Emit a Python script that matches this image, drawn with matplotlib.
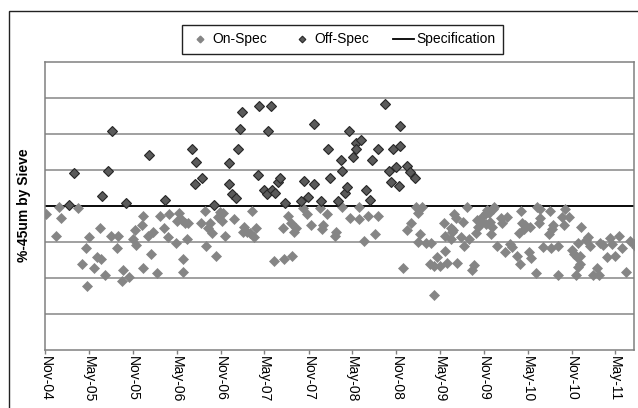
import matplotlib.pyplot as plt
import matplotlib.dates as mdates
from matplotlib.patches import Rectangle
from matplotlib.lines import Line2D
from datetime import datetime, timedelta

plt.rcParams['font.family'] = ['Liberation Sans', 'DejaVu Sans']

# Sieve results: sample time (decimal year) and % passing 45um
on_spec_time = [
    2004.84, 2004.99, 2005.01, 2005.20, 2004.96, 2005.33, 2005.46, 2005.58, 2005.66, 2005.30,
    2005.25, 2005.42, 2005.47, 2005.39, 2005.51, 2005.31, 2005.65, 2005.72, 2005.71, 2005.79,
    2005.85, 2005.93, 2005.94, 2005.83, 2005.87, 2006.00, 2006.06, 2006.04, 2005.95, 2006.10,
    2006.14, 2006.24, 2006.19, 2006.23, 2006.32, 2006.36, 2006.33, 2006.39, 2006.42, 2006.46,
    2006.45, 2006.40, 2006.40, 2006.61, 2006.65, 2006.66, 2006.71, 2006.69, 2006.73, 2006.78,
    2006.80, 2006.82, 2006.86, 2006.84, 2006.88, 2006.98, 2007.10, 2007.13, 2007.09, 2007.16,
    2007.19, 2007.23, 2007.21, 2007.44, 2007.55, 2007.64, 2007.60, 2007.63, 2007.54, 2007.69,
    2007.67, 2007.77, 2007.82, 2007.86, 2007.96, 2008.04, 2008.00, 2007.99, 2008.15, 2008.13,
    2008.21, 2008.31, 2008.41, 2008.41, 2008.51, 2008.62, 2008.59, 2008.47, 2009.06, 2009.08,
    2009.12, 2009.00, 2008.95, 2009.10, 2009.08, 2009.17, 2009.23, 2008.91, 2009.26, 2009.22,
    2009.26, 2009.29, 2009.33, 2009.39, 2009.41, 2009.52, 2009.37, 2009.39, 2009.45, 2009.47,
    2009.48, 2009.45, 2009.49, 2009.51, 2009.59, 2009.57, 2009.60, 2009.64, 2009.66, 2009.72,
    2009.70, 2009.74, 2009.76, 2009.75, 2009.81, 2009.85, 2009.86, 2009.89, 2009.93, 2009.81,
    2009.85, 2009.90, 2009.92, 2009.91, 2009.95, 2009.98, 2010.03, 2010.04, 2010.07, 2010.09,
    2010.25, 2010.44, 2010.47, 2010.58, 2010.76, 2010.72, 2010.80, 2010.47, 2010.46, 2010.26,
    2010.30, 2010.36, 2010.23, 2010.29, 2010.62, 2010.61, 2010.57, 2010.74, 2010.94, 2010.13,
    2010.15, 2010.21, 2010.24, 2010.34, 2010.37, 2010.50, 2010.59, 2010.68, 2010.42, 2010.68,
    2010.83, 2010.86, 2010.89, 2010.93, 2010.90, 2011.00, 2011.02, 2011.04, 2010.93, 2010.90,
    2010.88, 2011.07, 2011.12, 2011.14, 2011.16, 2011.19, 2011.27, 2011.29, 2011.37, 2011.40,
    2011.23, 2011.33, 2011.45, 2011.50, 2011.54, 2011.56,
]
on_spec_pct = [
    37.8, 39.7, 36.8, 39.4, 31.8, 31.3, 33.8, 31.8, 31.8, 28.3,
    23.8, 25.9, 25.2, 22.7, 20.8, 17.8, 28.3, 22.1, 19.3, 20.2,
    33.3, 34.7, 37.2, 30.8, 29.2, 31.8, 32.7, 26.7, 22.7, 21.3,
    37.2, 37.8, 33.8, 31.5, 29.8, 38.1, 35.8, 36.1, 35.2, 35.2,
    30.9, 25.3, 21.8, 35.2, 38.7, 28.8, 35.2, 34.0, 32.6, 26.2,
    37.0, 38.4, 38.1, 35.8, 31.8, 36.3, 34.3, 32.9, 32.9, 32.4,
    38.7, 33.8, 31.3, 24.6, 25.2, 26.2, 37.2, 35.2, 33.8, 34.0,
    32.7, 39.4, 37.8, 34.7, 39.4, 37.8, 34.7, 33.6, 32.7, 31.8,
    39.8, 36.8, 39.8, 36.3, 37.2, 37.2, 32.2, 30.3, 39.6, 38.1,
    39.8, 35.2, 33.3, 32.2, 30.1, 29.6, 29.6, 22.7, 15.3, 23.8,
    23.3, 25.9, 23.3, 27.6, 24.3, 24.3, 35.2, 31.8, 33.8, 32.9,
    33.3, 30.8, 37.8, 36.6, 35.6, 31.5, 28.9, 39.8, 30.8, 23.6,
    22.2, 32.6, 34.3, 36.1, 37.0, 38.0, 38.9, 38.1, 39.1, 35.6,
    35.0, 35.6, 34.3, 32.2, 39.6, 28.9, 36.6, 35.2, 27.1, 37.0,
    38.7, 39.8, 39.1, 38.7, 39.1, 37.0, 37.0, 36.6, 35.2, 35.2,
    34.7, 34.3, 32.6, 33.5, 34.7, 33.5, 32.2, 34.7, 34.1, 29.4,
    28.7, 26.2, 23.8, 27.3, 25.6, 28.5, 28.3, 29.0, 21.3, 20.8,
    27.8, 26.6, 25.9, 26.2, 29.6, 30.6, 31.3, 28.9, 23.9, 23.1,
    20.8, 20.8, 22.9, 20.8, 29.6, 29.2, 31.0, 29.4, 31.8, 28.3,
    25.9, 26.2, 21.8, 30.4, 29.4, 28.7,
]
off_spec_time = [
    2005.10, 2005.16, 2005.48, 2005.54, 2005.59, 2005.75, 2006.01, 2006.20, 2006.50, 2006.54,
    2006.55, 2006.62, 2006.76, 2006.92, 2006.93, 2006.96, 2007.01, 2007.03, 2007.05, 2007.07,
    2007.26, 2007.27, 2007.32, 2007.36, 2007.37, 2007.40, 2007.42, 2007.45, 2007.48, 2007.51,
    2007.56, 2007.75, 2007.78, 2007.83, 2007.89, 2007.90, 2007.97, 2008.06, 2008.08, 2008.17,
    2008.20, 2008.21, 2008.25, 2008.27, 2008.30, 2008.34, 2008.37, 2008.37, 2008.43, 2008.49,
    2008.53, 2008.56, 2008.63, 2008.71, 2008.75, 2008.77, 2008.80, 2008.83, 2008.87, 2008.88,
    2008.88, 2008.96, 2008.99, 2009.05,
]
off_spec_pct = [
    40.2, 49.3, 42.8, 49.8, 60.8, 40.8, 54.2, 41.8, 55.8, 46.2,
    52.3, 47.8, 40.2, 51.9, 46.2, 43.3, 42.3, 55.8, 61.3, 66.2,
    48.7, 67.8, 44.4, 43.3, 60.8, 67.8, 44.4, 43.7, 46.7, 47.9,
    40.8, 41.3, 46.9, 42.4, 46.2, 62.8, 41.3, 55.8, 47.8, 41.3,
    52.8, 49.8, 43.7, 45.2, 60.8, 53.7, 57.4, 55.8, 58.3, 44.4,
    41.8, 52.8, 55.8, 68.3, 49.8, 46.7, 55.8, 50.8, 45.6, 62.2,
    56.8, 51.2, 49.4, 47.8,
]
spec_limit = 40
x_start = datetime(2004, 11, 1)
x_end = datetime(2011, 7, 18)

on_color = '#858585'
off_face, off_edge = '#5a5a5a', '#262626'


def to_date(year):
    whole = int(year)
    return datetime(whole, 1, 1) + timedelta(days=(year - whole) * 365.25)


fig = plt.figure(figsize=(6.38, 4.08), dpi=100)
ax = fig.add_axes([0.0713, 0.1422, 0.9224, 0.7058])

ax.set_ylim(0, 80)
ax.set_yticks(range(10, 80, 10))
ax.yaxis.grid(True, color='#868686', linewidth=1.1)
ax.tick_params(axis='y', left=False, labelleft=False)

ax.plot([x_start, x_end], [spec_limit, spec_limit], color='black', linewidth=1.3, zorder=2)
ax.plot([to_date(t) for t in on_spec_time], on_spec_pct, 'D', ms=4.6,
        mfc=on_color, mec=on_color, mew=0.5, zorder=3)
ax.plot([to_date(t) for t in off_spec_time], off_spec_pct, 'D', ms=4.6,
        mfc=off_face, mec=off_edge, mew=0.8, zorder=3)

ax.set_xlim(x_start, x_end)
ax.xaxis.set_major_locator(mdates.MonthLocator(bymonth=[5, 11]))
ax.xaxis.set_major_formatter(mdates.DateFormatter('%b-%y'))
ax.tick_params(axis='x', direction='out', length=3, width=1, color='#808080',
               labelsize=10, pad=1)
plt.setp(ax.get_xticklabels(), rotation=270, ha='center', va='top')

for s in ax.spines.values():
    s.set_color('#808080')
    s.set_linewidth(1.1)

fig.text(24 / 638, 1 - 205 / 408, '%-45um by Sieve', rotation=90, fontsize=10,
         fontweight='bold', ha='center', va='center')

# legend keys use smaller diamonds than the data points
handles = [
    Line2D([], [], ls='none', marker='D', ms=3.4, mfc=on_color, mec=on_color),
    Line2D([], [], ls='none', marker='D', ms=3.4, mfc=off_face, mec=off_edge, mew=0.8),
    Line2D([], [], color='black', linewidth=1.3),
]
leg = fig.legend(handles, ['On-Spec', 'Off-Spec', 'Specification'],
                 loc='center', bbox_to_anchor=(342.5 / 638, 1 - 39.5 / 408), ncol=3,
                 fontsize=10, frameon=True, fancybox=False, edgecolor='#222222',
                 framealpha=1, handlelength=1.5, handletextpad=0.2,
                 columnspacing=1.7, borderpad=0.55, numpoints=1)
leg.get_frame().set_linewidth(1.0)

# chart area border
fig.add_artist(Rectangle((9 / 638, -0.1), 1.1, 1.1 - 11 / 408, transform=fig.transFigure,
                         fill=False, edgecolor='#222222', linewidth=1, clip_on=False))

fig.savefig('out.png', dpi=100)
